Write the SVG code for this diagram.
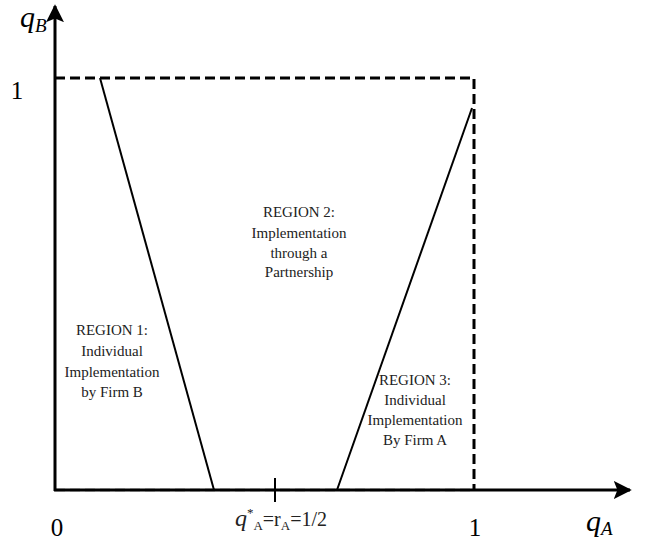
<svg xmlns="http://www.w3.org/2000/svg" width="651" height="542" viewBox="0 0 651 542">
<style>
.ax{stroke:#000;stroke-width:3;fill:none}
.dash{stroke:#000;stroke-width:3;fill:none;stroke-dasharray:10 5}
.ln{stroke:#000;stroke-width:2;fill:none}
.t{font-family:"Liberation Serif",serif;font-size:15px;fill:#222;text-anchor:middle}
.big{font-family:"Liberation Serif",serif;font-size:25px;fill:#000;text-anchor:middle}
.it{font-family:"Liberation Serif",serif;font-style:italic;fill:#000}
</style>
<defs>
<marker id="ah" viewBox="0 0 10 10" refX="9" refY="5" markerWidth="6" markerHeight="6" orient="auto" markerUnits="strokeWidth">
<path d="M0,0 L10,5 L0,10 L2,5 z" fill="#000"/>
</marker>
</defs>
<g id="connectors">
<line class="ax" x1="55" y1="491" x2="55" y2="6" marker-end="url(#ah)"/>
<line class="ax" x1="54" y1="490" x2="630" y2="490" marker-end="url(#ah)"/>
<path class="dash" d="M55,78 H474 V490"/>
<line class="dash" x1="55" y1="490" x2="474" y2="490" stroke="#fff" opacity="0.25"/>
<line class="ln" x1="100" y1="78" x2="214" y2="490"/>
<line class="ln" x1="472" y1="108" x2="337" y2="490"/>
<line class="ln" x1="275" y1="478" x2="275" y2="502"/>
</g>
<g id="labels">
<text class="big" x="17" y="99">1</text>
<text class="big" x="57" y="536">0</text>
<text class="big" x="475" y="536">1</text>
<text class="it" x="20" y="27" font-size="30">q<tspan font-size="19" dy="5">B</tspan></text>
<text class="it" x="586" y="531" font-size="30">q<tspan font-size="19" dy="4">A</tspan></text>
<text x="281" y="526" font-family="Liberation Serif,serif" font-size="20" text-anchor="middle" fill="#222"><tspan font-style="italic" font-size="24">q</tspan><tspan font-size="13" dy="-9">*</tspan><tspan font-size="13" dy="13">A</tspan><tspan dy="-4">=r</tspan><tspan font-size="13" dy="4">A</tspan><tspan dy="-4">=1/2</tspan></text>
</g>
<g id="region1">
<text class="t" x="112" y="335">REGION 1:</text>
<text class="t" x="112" y="356">Individual</text>
<text class="t" x="112" y="377">Implementation</text>
<text class="t" x="112" y="397">by Firm B</text>
</g>
<g id="region2">
<text class="t" x="299" y="217">REGION 2:</text>
<text class="t" x="299" y="238">Implementation</text>
<text class="t" x="299" y="258">through a</text>
<text class="t" x="299" y="277">Partnership</text>
</g>
<g id="region3">
<text class="t" x="415" y="385">REGION 3:</text>
<text class="t" x="415" y="405">Individual</text>
<text class="t" x="415" y="425">Implementation</text>
<text class="t" x="415" y="445">By Firm A</text>
</g>
</svg>
